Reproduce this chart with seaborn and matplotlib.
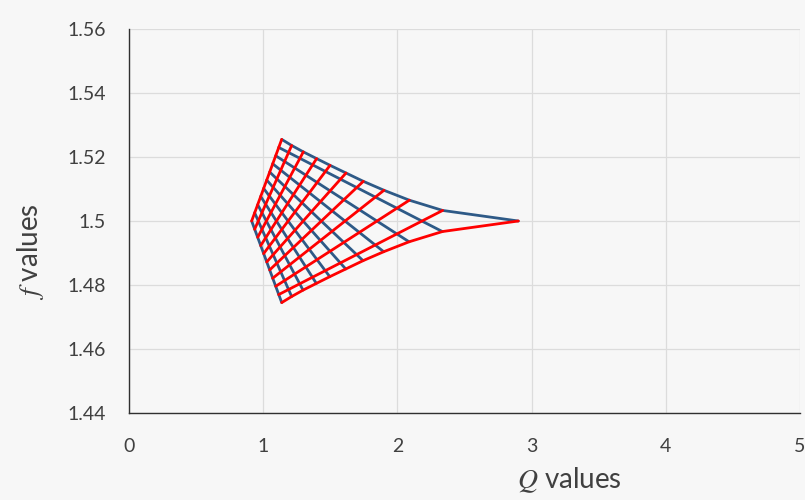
import numpy as np
import pandas as pd
import matplotlib
matplotlib.use('Agg')
import matplotlib.pyplot as plt
import seaborn as sns

# Mesh nodes (Q, f)
# top edge, from the upper corner to the right tip
top_q = [1.138, 1.212, 1.299, 1.398, 1.498, 1.617, 1.746, 1.900, 2.089, 2.337, 2.901]
top_f = [1.5255, 1.5236, 1.5216, 1.5195, 1.5174, 1.5150, 1.5124, 1.5096, 1.5065, 1.5033, 1.5000]
# bottom edge, from the lower corner to the right tip
bot_q = [1.138, 1.212, 1.297, 1.396, 1.496, 1.615, 1.744, 1.898, 2.087, 2.335, 2.901]
bot_f = [1.4745, 1.4764, 1.4784, 1.4805, 1.4826, 1.4850, 1.4876, 1.4904, 1.4935, 1.4967, 1.5000]
# left edges, from the left tip to the upper / lower corner
left_q = [0.914, 0.936, 0.959, 0.981, 1.003, 1.026, 1.048, 1.070, 1.093, 1.115, 1.138]
upper_left_f = [1.5000, 1.5026, 1.5051, 1.5077, 1.5102, 1.5128, 1.5153, 1.5179, 1.5204, 1.5230, 1.5255]
lower_left_f = [1.5000, 1.4974, 1.4949, 1.4923, 1.4898, 1.4872, 1.4847, 1.4821, 1.4796, 1.4770, 1.4745]

x_ticks = [0, 1, 2, 3, 4, 5]
y_ticks = [1.44, 1.46, 1.48, 1.50, 1.52, 1.54, 1.56]
y_tick_labels = ['1.44', '1.46', '1.48', '1.5', '1.52', '1.54', '1.56']

# build one long table: blue family first so red is drawn on top
rows = []
n = len(top_q)
for j in range(n):
    if j == n - 1:
        pts = list(zip(top_q, top_f))
    else:
        pts = [(left_q[j], upper_left_f[j]), (bot_q[j], bot_f[j])]
    for q, f in pts:
        rows.append({'Q': q, 'f': f, 'line': f'b{j}', 'family': 'blue'})
for i in range(n):
    if i == n - 1:
        pts = list(zip(bot_q, bot_f))
    else:
        pts = [(left_q[i], lower_left_f[i]), (top_q[i], top_f[i])]
    for q, f in pts:
        rows.append({'Q': q, 'f': f, 'line': f'r{i}', 'family': 'red'})
df = pd.DataFrame(rows)

sns.set_theme(style='whitegrid')
plt.rcParams['font.family'] = ['Lato', 'DejaVu Sans']
plt.rcParams['mathtext.fontset'] = 'stix'

bg = '#f7f7f7'
fig = plt.figure(figsize=(8.05, 5.0), dpi=100, facecolor=bg)
ax = fig.add_axes([129 / 805, 87 / 500, 671 / 805, 384 / 500])
ax.set_facecolor(bg)

sns.lineplot(data=df, x='Q', y='f', hue='family', units='line', estimator=None,
             sort=False, palette={'blue': '#2e5a87', 'red': '#ff0000'},
             linewidth=2.0, legend=False, ax=ax)

ax.set_xlim(0, 5)
ax.set_ylim(1.44, 1.56)
ax.set_xticks(x_ticks)
ax.set_xticklabels([str(t) for t in x_ticks])
ax.set_yticks(y_ticks)
ax.set_yticklabels(y_tick_labels)
ax.tick_params(axis='both', length=0, labelsize=14, colors='#404040')
ax.tick_params(axis='y', pad=16.5)
ax.tick_params(axis='x', pad=18)

ax.grid(True, color='#dcdcdc', linewidth=0.9)
for s in ['top', 'right']:
    ax.spines[s].set_visible(False)
for s in ['left', 'bottom']:
    ax.spines[s].set_color('#303030')
    ax.spines[s].set_linewidth(1.0)

ax.set_xlabel(r'$Q$ values', fontsize=20, color='#404040')
ax.set_ylabel(r'$f$ values', fontsize=20, color='#404040')
ax.xaxis.set_label_coords(0.657, -0.135)
ax.yaxis.set_label_coords(-0.124, 0.42)

fig.savefig('out.png', dpi=100, facecolor=bg)
